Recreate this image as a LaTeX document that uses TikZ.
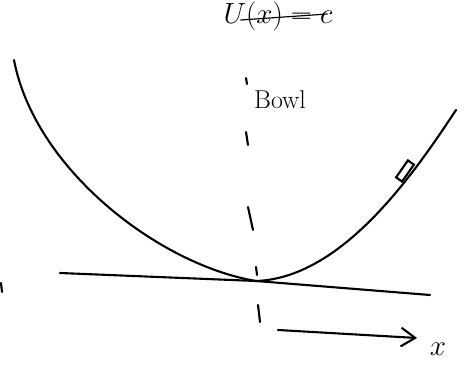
\documentclass[tikz,border=0pt]{standalone}
\usepackage{amsmath,amssymb}
\usetikzlibrary{calc,arrows.meta}

\begin{document}
\begin{tikzpicture}[x=0.03cm, y=-0.03cm, line width=1.8pt, line cap=round]
	\useasboundingbox (0,0) rectangle (465,369);
	% bowl curve
	\coordinate (L) at (14,60);
	\coordinate (M) at (256,281);
	\coordinate (R) at (456,110);
	\draw (L) .. controls (35,170) and (160,265) .. (M)
		.. controls (340,278) and (410,180) .. (R);
	% ground line
	\coordinate (G1) at (60,273);
	\coordinate (G2) at (430,295);
	\draw (G1)--(M)--(G2);
	% axis of symmetry
	\draw (246,78)--(247,84);
	\draw (246,132)--(248,145);
	\draw (248,207)--(253,230);
	\draw (256,267)--(257,275);
	\draw (258,305)--(260,322);
	\draw (1,283)--(2,292);
	% block on the slope
	\node[draw, rotate=55, minimum width=0.62cm, minimum height=0.22cm, inner sep=0pt] (K) at (405,171) {};
	% labels
	\node[font=\fontsize{26}{28}\selectfont] (U) at (278,16) {$U(x)=c$};
	\coordinate (S1) at ($(U.west)+(22,4)$);
	\coordinate (S2) at ($(U.east)+(-10,-2)$);
	\draw[line width=1pt] (S1)--(S2);
	\node[font=\fontsize{22}{24}\selectfont] (B) at (280,100) {Bowl};
	% x direction
	\coordinate (A1) at (278,330);
	\coordinate (A2) at (417,338);
	\draw[-{Straight Barb[length=12pt,width=16pt,line width=1.8pt]}] (A1)--(A2);
	\node[font=\fontsize{26}{28}\selectfont] (X) at (438,349) {$x$};
\end{tikzpicture}
\end{document}
